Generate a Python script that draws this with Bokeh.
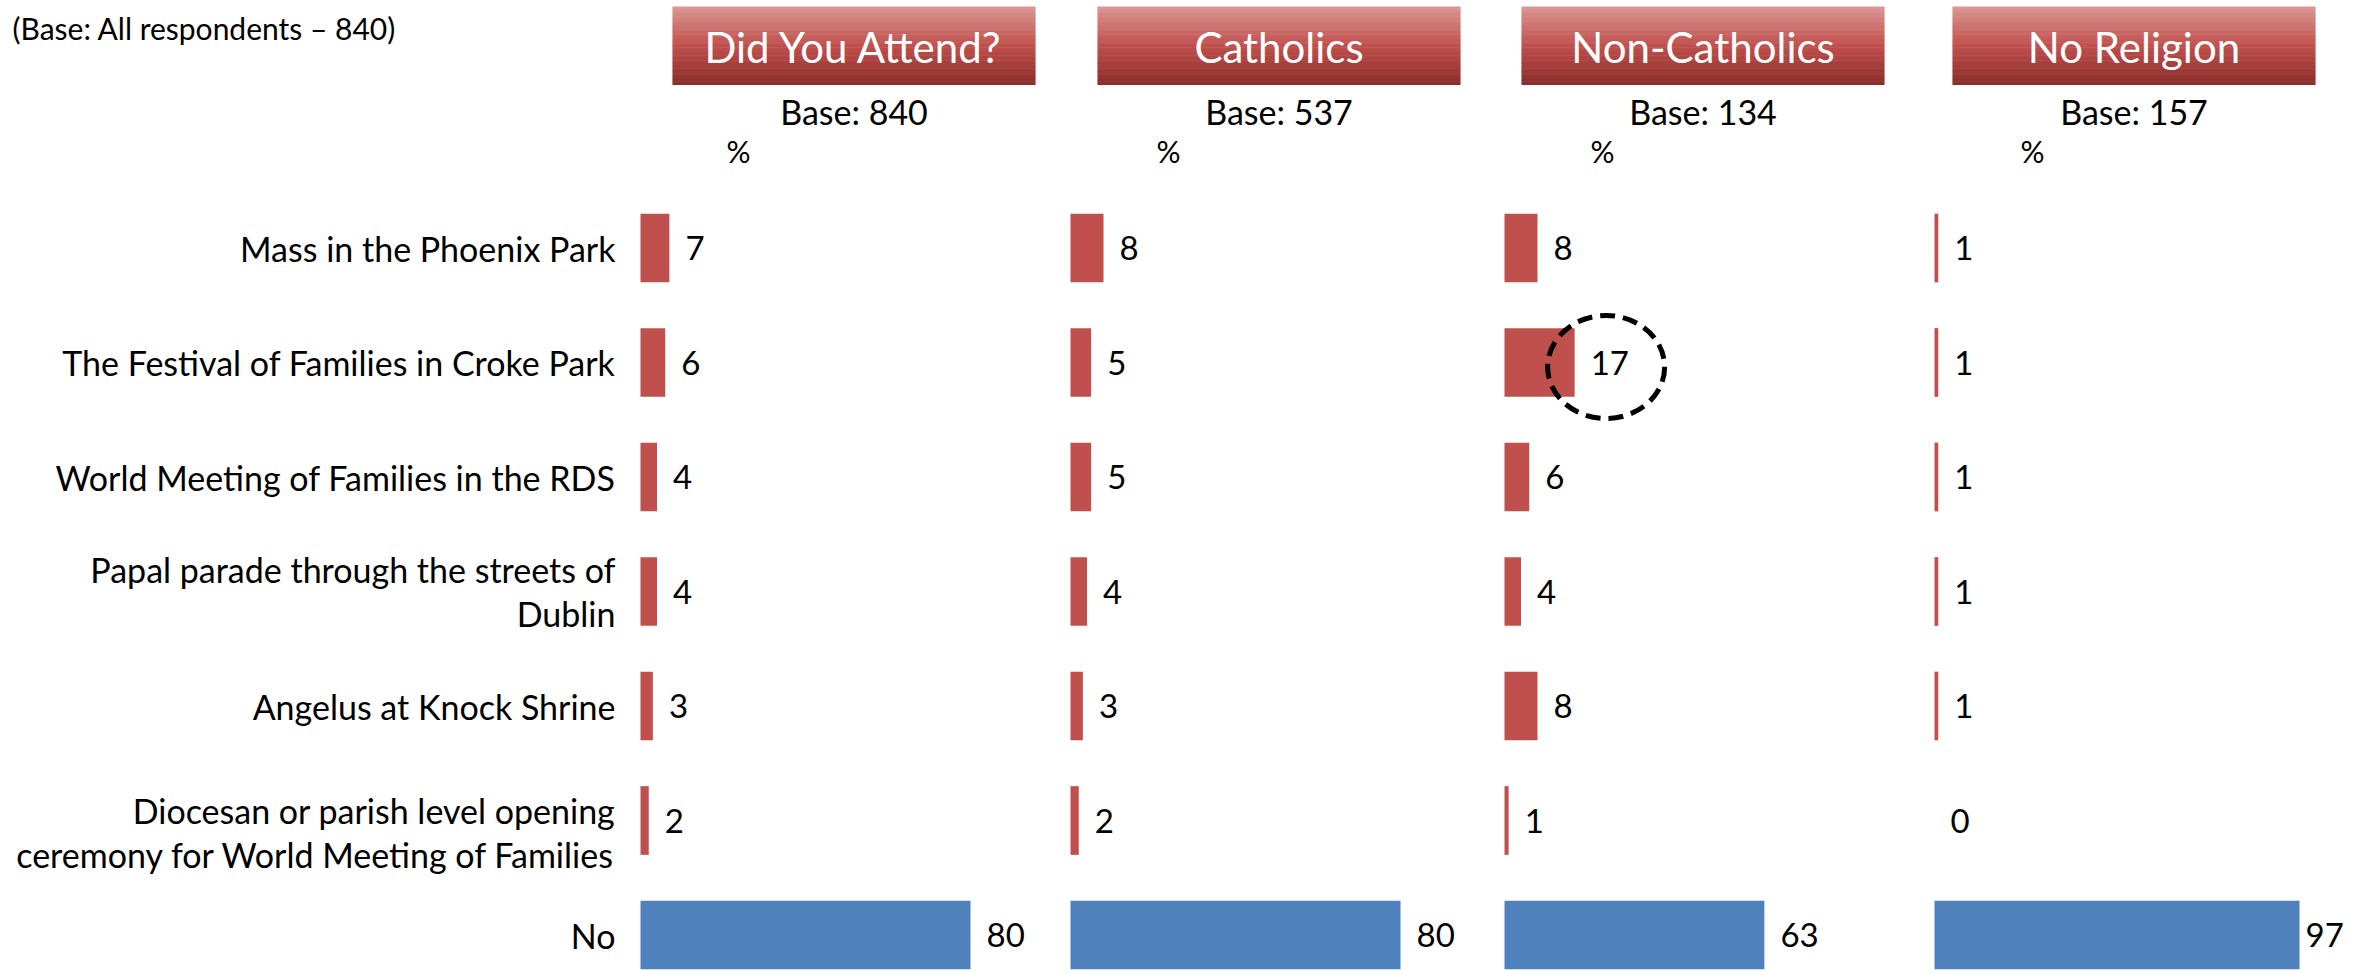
import numpy as np
from bokeh.plotting import figure
from bokeh.models import Range1d
from bokeh.core.properties import value
from bokeh.embed import file_html
from bokeh.resources import INLINE

# ---------------- data ----------------
categories = [
    "Mass in the Phoenix Park",
    "The Festival of Families in Croke Park",
    "World Meeting of Families in the RDS",
    "Papal parade through the streets of\nDublin",
    "Angelus at Knock Shrine",
    "Diocesan or parish level opening\nceremony for World Meeting of Families",
    "No",
]
panel_titles = ["Did You Attend?", "Catholics", "Non-Catholics", "No Religion"]
panel_bases = [840, 537, 134, 157]
attend = [7, 6, 4, 4, 3, 2, 80]
catholics = [8, 5, 5, 4, 3, 2, 80]
non_catholics = [8, 17, 6, 4, 8, 1, 63]
no_religion = [1, 1, 1, 1, 1, 0, 97]
note_text = "(Base: All respondents – 840)"
circled = ("Non-Catholics", "The Festival of Families in Croke Park")

series = [attend, catholics, non_catholics, no_religion]

# ---------------- layout / style ----------------
W, H = 2356, 973
FONT = "Lato"
RED, BLUE = "#C0504D", "#4F81BD"
LABEL_PX = 34
VALUE_PX = 33

row0, row_step = 247.5, 114.5
bar_left = [640, 1070, 1504, 1934]
px_per_pct = [4.125, 4.125, 4.125, 3.763]
box_left = [672, 1097, 1521, 1952]
box_w = 363

p = figure(width=W, height=H, x_range=Range1d(0, W), y_range=Range1d(H, 0),
           output_backend="svg", toolbar_location=None, x_axis_type=None,
           y_axis_type=None, min_border=0)
p.min_border_left = p.min_border_right = p.min_border_top = p.min_border_bottom = 0
p.grid.visible = False
p.outline_line_color = None
p.background_fill_color = "white"
p.border_fill_color = "white"

# rows range (row index units, row 0 at top)
p.extra_y_ranges = {"rows": Range1d(start=(H - row0) / row_step, end=-row0 / row_step)}

# panel ranges (percent units)
xr = {}
for k in range(4):
    L = bar_left[k]
    xr[f"p{k}"] = Range1d(start=-L / px_per_pct[k], end=(W - L) / px_per_pct[k])
p.extra_x_ranges = xr

rows = list(range(len(categories)))
colors = [BLUE if c == "No" else RED for c in categories]

# note
p.text(x=[12], y=[27], text=[note_text], text_font=value(FONT),
       text_font_size="30px", text_baseline="middle", text_align="left", text_color="black")

# category labels (the long wrapped label sits a little low, as in the original)
label_dy = [12 if c.startswith("Diocesan") else 0 for c in categories]
p.text(x=[615] * len(rows), y=rows, text=categories, y_range_name="rows",
       y_offset=label_dy,
       text_font=value(FONT), text_font_size=f"{LABEL_PX}px", text_align="right",
       text_baseline="middle", text_color="black", text_line_height=1.05)

# header gradient boxes
def lerp(c1, c2, t):
    return tuple(int(round(a + (b - a) * t)) for a, b in zip(c1, c2))

top_c, mid_c, bot_c = (218, 150, 148), (192, 80, 77), (138, 44, 42)
N = 48
box_top, box_bot = 6, 84
for k in range(4):
    lefts, rights, tops, bots, cols = [], [], [], [], []
    for i in range(N):
        t = (i + 0.5) / N
        c = lerp(top_c, mid_c, t / 0.5) if t < 0.5 else lerp(mid_c, bot_c, (t - 0.5) / 0.5)
        lefts.append(box_left[k])
        rights.append(box_left[k] + box_w)
        tops.append(box_top + (box_bot - box_top) * i / N)
        bots.append(box_top + (box_bot - box_top) * (i + 1) / N + 0.6)
        cols.append("#%02x%02x%02x" % c)
    p.quad(left=lefts, right=rights, top=tops, bottom=bots, fill_color=cols, line_color=None)
    cx = box_left[k] + box_w / 2
    p.text(x=[cx], y=[(box_top + box_bot) / 2 + 1], text=[panel_titles[k]], text_font=value(FONT),
           text_font_size="42px", text_align="center", text_baseline="middle", text_color="white")
    p.text(x=[cx], y=[111], text=[f"Base: {panel_bases[k]}"], text_font=value(FONT),
           text_font_size="34px", text_align="center", text_baseline="middle", text_color="black")
    p.text(x=[bar_left[k] + 98], y=[150], text=["%"], text_font=value(FONT),
           text_font_size="30px", text_align="center", text_baseline="middle", text_color="black")

# bars and value labels
for k, vals in enumerate(series):
    rn = f"p{k}"
    p.hbar(y=rows, left=0, right=vals, height=0.6, fill_color=colors, line_color=None,
           x_range_name=rn, y_range_name="rows")
    offs = []
    for v in vals:
        end_px = bar_left[k] + v * px_per_pct[k]
        est_w = 0.55 * VALUE_PX * len(str(v))
        offs.append(int(min(16, (W - 14) - end_px - est_w)))
    p.text(x=vals, y=rows, text=[str(v) for v in vals], x_offset=offs,
           x_range_name=rn, y_range_name="rows", text_font=value(FONT),
           text_font_size=f"{VALUE_PX}px", text_align="left", text_baseline="middle",
           text_color="black")

# circled highlight
ck = panel_titles.index(circled[0])
cr = categories.index(circled[1])
cv = series[ck][cr]
cx_px = bar_left[ck] + cv * px_per_pct[ck] + 31.5
cy_px = row0 + cr * row_step + 4.5
p.ellipse(x=[cx_px], y=[cy_px], width=117, height=103, fill_color=None,
          line_color="black", line_width=5, line_dash="15 8")

open("out.html", "w").write(file_html(p, INLINE))
